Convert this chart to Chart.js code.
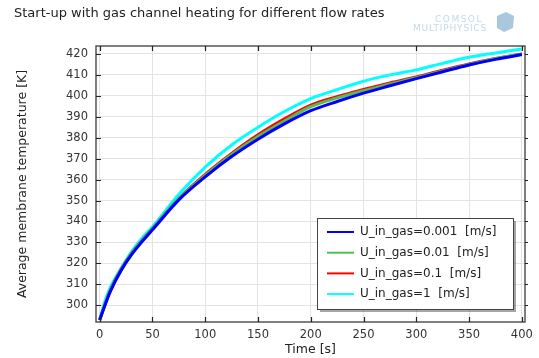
<!DOCTYPE html>
<html lang="en">
<head>
    <meta charset="UTF-8">
    <title>Start-up with gas channel heating</title>
    <script src="https://cdn.jsdelivr.net/npm/chart.js"></script>
    <style>
        body { margin: 0; background: #fff; }
        #wrap { width: 539px; height: 358px; }
    </style>
</head>
<body>
    <div id="wrap"><canvas id="startupChart"></canvas></div>

    <script>
        // time [s] and average membrane temperature [K]
        const times = [0, 5, 10, 20, 30, 40, 50, 75, 100, 125, 150, 175, 200, 225, 250, 275, 300, 325, 350, 375, 400];
        const tempU0001 = [293, 300, 306.5, 316.3, 324, 330.3, 336, 350.3, 361.3, 371, 379.3, 386.6, 392.9, 397.3, 401.3, 404.8, 408.2, 411.5, 414.7, 417.4, 419.7];
        const tempU001 = [293, 300.2, 306.8, 316.5, 324.3, 330.6, 336.3, 350.8, 362, 372, 380.6, 388, 394.8, 399, 402.4, 405.7, 408.6, 411.9, 415, 417.7, 420];
        const tempU01 = [293, 300.4, 307, 316.8, 324.5, 330.8, 336.5, 351, 362.5, 372.5, 381.4, 389, 395.6, 399.6, 403, 406.2, 409, 412.2, 415.2, 417.8, 420];
        const tempU1 = [293, 302, 308.5, 317.5, 325.5, 332, 337.5, 353, 366, 376.5, 385, 392.5, 398.7, 403, 407, 410, 412.4, 415.5, 418.4, 420.5, 422.4];
        const seriesLabels = ['U_in_gas=0.001  [m/s]', 'U_in_gas=0.01  [m/s]', 'U_in_gas=0.1  [m/s]', 'U_in_gas=1  [m/s]'];
        const seriesColors = ['#0000ff', '#4fbf4f', '#ff0000', '#00ffff'];
        const xTicks = [0, 50, 100, 150, 200, 250, 300, 350, 400];
        const yTicks = [300, 310, 320, 330, 340, 350, 360, 370, 380, 390, 400, 410, 420];

        const FONT = "'DejaVu Sans', sans-serif";
        const toPoints = vals => vals.map((v, i) => ({ x: times[i], y: v }));
        const allTemps = [tempU0001, tempU001, tempU01, tempU1];

        // frame, inward ticks, legend box and logo
        const decorations = {
            id: 'decorations',
            afterDatasetsDraw(chart) {
                const { ctx, chartArea: a, scales } = chart;
                ctx.save();
                ctx.strokeStyle = '#555';
                ctx.lineWidth = 1.5;
                ctx.strokeRect(a.left, a.top, a.right - a.left, a.bottom - a.top);
                ctx.lineWidth = 1.2;
                ctx.strokeStyle = '#222';
                ctx.beginPath();
                xTicks.forEach(v => {
                    const px = Math.round(scales.x.getPixelForValue(v)) + 0.5;
                    ctx.moveTo(px, a.bottom); ctx.lineTo(px, a.bottom - 5);
                    ctx.moveTo(px, a.top); ctx.lineTo(px, a.top + 5);
                });
                yTicks.forEach(v => {
                    const py = Math.round(scales.y.getPixelForValue(v)) + 0.5;
                    ctx.moveTo(a.left, py); ctx.lineTo(a.left + 5, py);
                    ctx.moveTo(a.right, py); ctx.lineTo(a.right + 3, py);
                });
                ctx.stroke();

                // legend
                const lx = 317, ly = 218, lw = 196, lh = 91;
                ctx.fillStyle = 'rgba(0,0,0,0.35)';
                ctx.fillRect(lx + 3, ly + 3, lw, lh);
                ctx.fillStyle = '#fff';
                ctx.fillRect(lx, ly, lw, lh);
                ctx.strokeStyle = '#444';
                ctx.lineWidth = 1;
                ctx.strokeRect(lx + 0.5, ly + 0.5, lw, lh);
                ctx.font = '12px ' + FONT;
                ctx.textBaseline = 'middle';
                chart.data.datasets.forEach((ds, i) => {
                    const y = ly + 14 + i * 20.7;
                    ctx.strokeStyle = ds.borderColor;
                    ctx.lineWidth = 2;
                    ctx.beginPath();
                    ctx.moveTo(327, y); ctx.lineTo(354, y);
                    ctx.stroke();
                    ctx.fillStyle = '#222';
                    ctx.fillText(ds.label, 360, y);
                });

                // faded logo
                ctx.fillStyle = '#c3d9ea';
                ctx.textAlign = 'center';
                ctx.letterSpacing = '1.5px';
                ctx.font = '9px ' + FONT;
                ctx.fillText('COMSOL', 459, 20);
                ctx.letterSpacing = '0.8px';
                ctx.font = '9px ' + FONT;
                ctx.fillText('MULTIPHYSICS', 450, 29);
                ctx.letterSpacing = '0px';
                ctx.fillStyle = '#a9c7dd';
                ctx.beginPath();
                ctx.moveTo(497, 16); ctx.lineTo(506, 12); ctx.lineTo(514, 16);
                ctx.lineTo(513, 28); ctx.lineTo(504, 32); ctx.lineTo(497, 28);
                ctx.closePath();
                ctx.fill();
                ctx.restore();
            }
        };

        const ctx = document.getElementById('startupChart').getContext('2d');
        const chart = new Chart(ctx, {
            type: 'line',
            data: {
                datasets: allTemps.map((vals, i) => ({
                    label: seriesLabels[i],
                    data: toPoints(vals),
                    borderColor: seriesColors[i],
                    borderWidth: 3,
                    pointRadius: 0,
                    cubicInterpolationMode: 'monotone',
                    fill: false
                }))
            },
            options: {
                responsive: true,
                maintainAspectRatio: false,
                animation: false,
                layout: { padding: { left: 14, right: 14, top: 0, bottom: 0 } },
                plugins: {
                    legend: { display: false },
                    tooltip: { enabled: false },
                    title: {
                        display: true,
                        text: 'Start-up with gas channel heating for different flow rates',
                        align: 'start',
                        color: '#222',
                        font: { family: FONT, size: 13, weight: 'normal' },
                        padding: { top: 6, bottom: 24.4 }
                    }
                },
                scales: {
                    x: {
                        type: 'linear',
                        min: -3.5,
                        max: 403,
                        afterBuildTicks: s => { s.ticks = xTicks.map(v => ({ value: v })); },
                        afterFit: s => { s.height = 36; },
                        grid: { color: '#e3e3e3', drawTicks: false },
                        border: { display: false },
                        ticks: { color: '#333', padding: 6, maxRotation: 0, font: { family: FONT, size: 11.5 } },
                        title: { display: true, text: 'Time [s]', color: '#222', padding: { top: 0, bottom: 1 }, font: { family: FONT, size: 12.5 } }
                    },
                    y: {
                        min: 292,
                        max: 423.8,
                        afterBuildTicks: s => { s.ticks = yTicks.map(v => ({ value: v })); },
                        afterFit: s => { s.width = 82; },
                        grid: { color: '#e3e3e3', drawTicks: false },
                        border: { display: false },
                        ticks: { color: '#333', padding: 8, font: { family: FONT, size: 11.5 } },
                        title: { display: true, text: 'Average membrane temperature [K]', color: '#222', padding: { top: 1, bottom: 0 }, font: { family: FONT, size: 12.5 } }
                    }
                }
            },
            plugins: [decorations]
        });
    </script>
</body>
</html>
